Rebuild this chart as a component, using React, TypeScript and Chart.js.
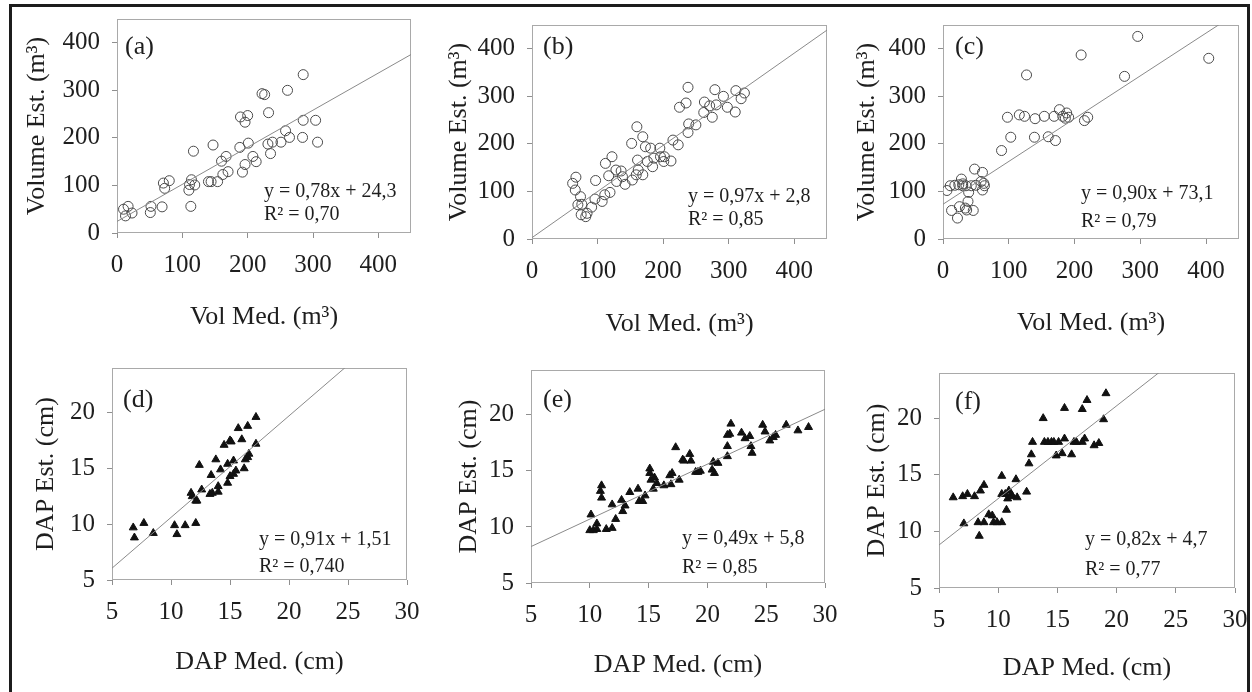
import React, { useEffect, useRef } from 'react';
import { Chart, registerables } from 'chart.js';

Chart.register(...registerables);

// ---------- DATA ----------
const aX = [10, 13, 17, 23, 51, 52, 69, 71, 73, 80, 110, 111, 113, 114, 119, 117, 140, 144, 147, 154, 160, 162, 167, 170, 188, 189, 192, 196, 196, 200, 201, 208, 213, 222, 226, 231, 232, 235, 238, 251, 258, 261, 264, 285, 285, 284, 304, 307];
const aY = [50, 36, 56, 42, 43, 56, 55, 105, 94, 110, 90, 102, 56, 112, 101, 172, 108, 108, 185, 108, 151, 123, 161, 129, 180, 244, 128, 233, 144, 247, 189, 161, 150, 293, 291, 187, 253, 167, 191, 191, 215, 300, 201, 333, 237, 201, 237, 191];

const bX = [62, 67, 66, 70, 74, 75, 76, 84, 82, 91, 96, 97, 107, 111, 112, 117, 119, 122, 128, 129, 136, 138, 142, 152, 153, 159, 160, 161, 162, 169, 169, 173, 176, 181, 184, 186, 195, 196, 201, 202, 212, 215, 223, 225, 235, 238, 239, 238, 250, 262, 263, 271, 275, 279, 281, 292, 298, 310, 311, 319, 324];
const bY = [117, 130, 103, 72, 89, 51, 73, 54, 47, 67, 84, 123, 79, 93, 159, 133, 98, 173, 145, 121, 143, 131, 115, 201, 124, 135, 236, 166, 145, 215, 135, 194, 163, 191, 152, 170, 191, 173, 163, 173, 164, 208, 198, 277, 286, 319, 242, 224, 240, 266, 288, 280, 256, 314, 282, 300, 277, 267, 312, 295, 307];

const cX = [6, 11, 13, 18, 22, 24, 25, 28, 30, 30, 34, 35, 38, 36, 39, 43, 46, 48, 50, 58, 60, 60, 62, 63, 89, 98, 103, 116, 124, 127, 139, 140, 154, 160, 169, 171, 177, 182, 188, 186, 191, 210, 215, 220, 276, 296, 404];
const cY = [102, 112, 60, 113, 44, 114, 68, 126, 116, 112, 65, 112, 79, 61, 98, 112, 60, 147, 113, 121, 140, 103, 117, 112, 186, 256, 214, 261, 258, 345, 214, 253, 258, 215, 258, 207, 272, 258, 265, 254, 256, 387, 249, 256, 342, 426, 380];

const dX = [6.8, 6.9, 7.7, 8.5, 10.3, 10.5, 11.2, 12.1, 11.7, 11.8, 12.1, 12.2, 12.4, 12.6, 13.3, 13.4, 13.5, 13.8, 14.0, 14.0, 14.2, 14.5, 14.8, 14.8, 15.0, 15.1, 15.3, 15.0, 15.3, 15.5, 15.7, 16.0, 16.2, 16.3, 16.5, 16.5, 16.6, 17.2, 17.2];
const dY = [9.7, 8.8, 10.1, 9.2, 9.9, 9.1, 9.9, 10.1, 12.8, 12.5, 12.1, 12.1, 15.3, 13.1, 12.7, 14.4, 12.8, 15.8, 13.4, 12.9, 14.9, 17.1, 13.7, 15.4, 17.5, 17.4, 15.7, 14.3, 14.5, 14.8, 18.6, 17.6, 15.0, 15.8, 16.0, 18.8, 16.3, 17.2, 19.6];

const eX = [10.1, 10.0, 10.3, 10.6, 10.6, 11.0, 10.9, 11.0, 11.4, 11.9, 11.9, 12.2, 12.7, 12.8, 13.0, 13.4, 14.1, 14.2, 14.5, 14.7, 15.1, 15.1, 15.2, 15.4, 15.5, 15.7, 16.3, 16.8, 16.9, 17.0, 17.3, 17.6, 17.9, 18.0, 18.5, 18.6, 19.0, 19.2, 19.4, 20.4, 20.5, 20.6, 20.9, 21.7, 21.7, 21.7, 21.9, 22.0, 22.9, 23.2, 23.6, 23.7, 23.8, 24.7, 24.9, 25.3, 25.6, 25.8, 26.7, 27.7, 28.6];
const eY = [11.1, 9.7, 9.7, 10.3, 9.8, 13.7, 13.2, 12.6, 9.8, 9.9, 12.0, 10.7, 12.4, 11.4, 11.9, 13.1, 13.4, 12.3, 12.3, 12.8, 15.2, 14.8, 14.2, 13.4, 14.4, 13.9, 13.7, 14.6, 13.8, 14.8, 17.1, 14.2, 16.0, 15.9, 16.5, 15.9, 14.9, 14.9, 15.0, 15.1, 15.8, 14.8, 15.7, 16.3, 17.2, 18.2, 18.3, 19.2, 18.4, 17.9, 18.1, 17.2, 16.6, 19.1, 18.5, 17.7, 18.0, 18.2, 19.1, 18.6, 18.9];

const fX = [6.2, 7.0, 7.1, 7.4, 8.0, 8.3, 8.4, 8.5, 8.8, 8.8, 9.2, 9.5, 9.6, 9.9, 10.3, 10.3, 10.3, 10.6, 10.7, 10.8, 10.9, 11.1, 11.2, 11.5, 11.6, 12.4, 12.6, 12.8, 12.9, 13.8, 13.9, 14.2, 14.5, 14.7, 14.9, 15.1, 15.4, 15.6, 15.6, 16.2, 16.4, 16.6, 17.1, 17.1, 17.3, 17.5, 18.1, 18.5, 18.9, 19.1];
const fY = [13.0, 13.1, 10.7, 13.3, 13.1, 10.8, 9.6, 13.6, 10.8, 14.1, 11.5, 11.4, 10.8, 10.8, 10.8, 14.9, 13.3, 13.3, 11.9, 12.9, 13.6, 13.3, 13.1, 14.6, 13.0, 13.5, 16.0, 16.8, 17.9, 20.0, 17.9, 17.9, 17.9, 17.9, 16.7, 17.9, 16.9, 20.9, 18.2, 16.8, 17.9, 17.9, 20.8, 17.9, 18.2, 21.6, 17.6, 17.8, 19.9, 22.2];

const panelLabels = ['(a)', '(b)', '(c)', '(d)', '(e)', '(f)'];
const fitSlope = [0.78, 0.97, 0.90, 0.91, 0.49, 0.82];
const fitIntercept = [24.3, 2.8, 73.1, 1.51, 5.8, 4.7];
const eqLine1 = ['y = 0,78x + 24,3', 'y = 0,97x + 2,8', 'y = 0,90x + 73,1', 'y = 0,91x + 1,51', 'y = 0,49x + 5,8', 'y = 0,82x + 4,7'];
const eqLine2 = ['R² = 0,70', 'R² = 0,85', 'R² = 0,79', 'R² = 0,740', 'R² = 0,85', 'R² = 0,77'];
const xTitles = ['Vol Med. (m³)', 'Vol Med. (m³)', 'Vol Med. (m³)', 'DAP Med. (cm)', 'DAP Med. (cm)', 'DAP Med. (cm)'];
const yTitles = ['Volume Est. (m³)', 'Volume Est. (m³)', 'Volume Est. (m³)', 'DAP Est. (cm)', 'DAP Est. (cm)', 'DAP Est. (cm)'];
const volAxis = { min: 0, max: 450, step: 100 };
const dapXAxis = { min: 5, max: 30, step: 5 };
const dapYAxis = { min: 5, max: 24, step: 5 };

const seriesX = [aX, bX, cX, dX, eX, fX];
const seriesY = [aY, bY, cY, dY, eY, fY];

// ---------- LAYOUT (page pixels) ----------
const LAYOUT = [
  { plotL: 117, plotT: 19, plotR: 411, plotB: 233, yTitleX: 38, xTitleY: 317, lblDx: 8, lblDy: 28, eqDx: 147, eq1Dy: -41, eq2Dy: -18 },
  { plotL: 532, plotT: 25, plotR: 827, plotB: 239, yTitleX: 460, xTitleY: 324, lblDx: 11, lblDy: 22, eqDx: 156, eq1Dy: -42, eq2Dy: -19 },
  { plotL: 943, plotT: 25, plotR: 1239, plotB: 239, yTitleX: 868, xTitleY: 323, lblDx: 12, lblDy: 22, eqDx: 138, eq1Dy: -45, eq2Dy: -17 },
  { plotL: 112, plotT: 368, plotR: 407, plotB: 580, yTitleX: 47, xTitleY: 662, lblDx: 11, lblDy: 32, eqDx: 147, eq1Dy: -40, eq2Dy: -13 },
  { plotL: 531, plotT: 370, plotR: 825, plotB: 583, yTitleX: 470, xTitleY: 665, lblDx: 12, lblDy: 30, eqDx: 151, eq1Dy: -44, eq2Dy: -15 },
  { plotL: 939, plotT: 373, plotR: 1235, plotB: 588, yTitleX: 878, xTitleY: 668, lblDx: 16, lblDy: 29, eqDx: 146, eq1Dy: -48, eq2Dy: -18 },
];

const SERIF = '"Liberation Serif", "Times New Roman", serif';
const TEXT = '#1e1e1e';
const TICK_FONT = 25;
const TITLE_FONT = 26;
const TITLE_LH = 1.2;
const PAD_TOP = 14;
const PAD_RIGHT = 24;

function canvasBox(i: number) {
  const L = LAYOUT[i];
  const half = (TITLE_FONT * TITLE_LH) / 2;
  const left = Math.round(L.yTitleX - half);
  const top = L.plotT - PAD_TOP;
  const right = L.plotR + PAD_RIGHT;
  const bottom = Math.round(L.xTitleY + half);
  return { left, top, width: right - left, height: bottom - top };
}

function Panel({ index }: { index: number }) {
  const ref = useRef<HTMLCanvasElement | null>(null);
  const box = canvasBox(index);

  useEffect(() => {
    const canvas = ref.current;
    if (!canvas) return;
    const L = LAYOUT[index];
    const isVol = index < 3;
    const xa = isVol ? volAxis : dapXAxis;
    const ya = isVol ? volAxis : dapYAxis;
    const yWidth = L.plotL - box.left;
    const xHeight = box.top + box.height - L.plotB;

    const pts = seriesX[index].map((x, k) => ({ x, y: seriesY[index][k] }));
    const fit = [xa.min, xa.max].map((x) => ({ x, y: fitSlope[index] * x + fitIntercept[index] }));

    const decor = {
      id: 'decor' + index,
      beforeDatasetsDraw(chart: any) {
        const { ctx, chartArea: ca } = chart;
        ctx.save();
        ctx.strokeStyle = '#a9a9a9';
        ctx.lineWidth = 1;
        ctx.strokeRect(ca.left + 0.5, ca.top + 0.5, ca.right - ca.left - 1, ca.bottom - ca.top - 1);
        ctx.restore();
      },
      afterDraw(chart: any) {
        const { ctx, chartArea: ca } = chart;
        ctx.save();
        ctx.fillStyle = TEXT;
        ctx.textAlign = 'left';
        ctx.textBaseline = 'middle';
        ctx.font = `26px ${SERIF}`;
        ctx.fillText(panelLabels[index], ca.left + L.lblDx, ca.top + L.lblDy);
        ctx.font = `20px ${SERIF}`;
        ctx.fillText(eqLine1[index], ca.left + L.eqDx, ca.bottom + L.eq1Dy);
        ctx.fillText(eqLine2[index], ca.left + L.eqDx, ca.bottom + L.eq2Dy);
        ctx.restore();
      },
    };

    const tickGrid = {
      display: true,
      drawOnChartArea: false,
      drawTicks: true,
      tickLength: 5,
      color: '#8f8f8f',
      lineWidth: 1,
    };

    const chart = new Chart(canvas, {
      type: 'scatter',
      data: {
        datasets: [
          {
            type: 'line',
            data: fit,
            showLine: true,
            borderColor: '#8a8a8a',
            borderWidth: 1,
            pointRadius: 0,
            fill: false,
          } as any,
          {
            data: pts,
            pointStyle: isVol ? 'circle' : 'triangle',
            pointRadius: isVol ? 5 : 4.6,
            pointBorderWidth: 1,
            borderColor: isVol ? '#4a4a4a' : '#111111',
            backgroundColor: isVol ? 'rgba(255,255,255,0)' : '#111111',
            pointBackgroundColor: isVol ? 'rgba(255,255,255,0)' : '#111111',
            pointBorderColor: isVol ? '#4a4a4a' : '#111111',
          } as any,
        ],
      },
      options: {
        animation: false,
        responsive: false,
        devicePixelRatio: 1,
        events: [],
        layout: { padding: { left: 0, top: PAD_TOP, right: PAD_RIGHT, bottom: 0 } },
        plugins: { legend: { display: false }, tooltip: { enabled: false }, title: { display: false } },
        scales: {
          x: {
            type: 'linear',
            position: 'bottom',
            min: xa.min,
            max: xa.max,
            grid: tickGrid as any,
            border: { display: false },
            ticks: {
              stepSize: xa.step,
              includeBounds: false,
              padding: 12,
              color: TEXT,
              maxRotation: 0,
              font: { family: SERIF, size: TICK_FONT },
            } as any,
            title: {
              display: true,
              text: xTitles[index],
              color: TEXT,
              padding: { top: 0, bottom: 0 },
              font: { family: SERIF, size: TITLE_FONT, lineHeight: TITLE_LH },
            },
            afterFit: (s: any) => {
              s.height = xHeight;
              s.paddingLeft = 0;
              s.paddingRight = 0;
              s.paddingTop = 0;
              s.paddingBottom = 0;
            },
          },
          y: {
            type: 'linear',
            position: 'left',
            min: ya.min,
            max: ya.max,
            grid: tickGrid as any,
            border: { display: false },
            ticks: {
              stepSize: ya.step,
              includeBounds: false,
              padding: 12,
              color: TEXT,
              font: { family: SERIF, size: TICK_FONT },
            } as any,
            title: {
              display: true,
              text: yTitles[index],
              color: TEXT,
              padding: { top: 0, bottom: 0 },
              font: { family: SERIF, size: TITLE_FONT, lineHeight: TITLE_LH },
            },
            afterFit: (s: any) => {
              s.width = yWidth;
              s.paddingLeft = 0;
              s.paddingRight = 0;
              s.paddingTop = 0;
              s.paddingBottom = 0;
            },
          },
        },
      } as any,
      plugins: [decor as any],
    });

    return () => chart.destroy();
  }, [index]);

  return (
    <canvas
      ref={ref}
      width={box.width}
      height={box.height}
      style={{ position: 'absolute', left: box.left, top: box.top, width: box.width, height: box.height }}
    />
  );
}

export default function App() {
  return (
    <div
      style={{
        position: 'fixed',
        left: 0,
        top: 0,
        width: 1252,
        height: 692,
        overflow: 'hidden',
        background: '#ffffff',
      }}
    >
      {[0, 1, 2, 3, 4, 5].map((i) => (
        <Panel key={i} index={i} />
      ))}
      <div
        style={{
          position: 'absolute',
          left: 9,
          top: 4,
          width: 1241,
          height: 720,
          boxSizing: 'border-box',
          borderTop: '3px solid #1c1c1c',
          borderLeft: '3px solid #1c1c1c',
          borderRight: '3px solid #1c1c1c',
          pointerEvents: 'none',
        }}
      />
    </div>
  );
}
